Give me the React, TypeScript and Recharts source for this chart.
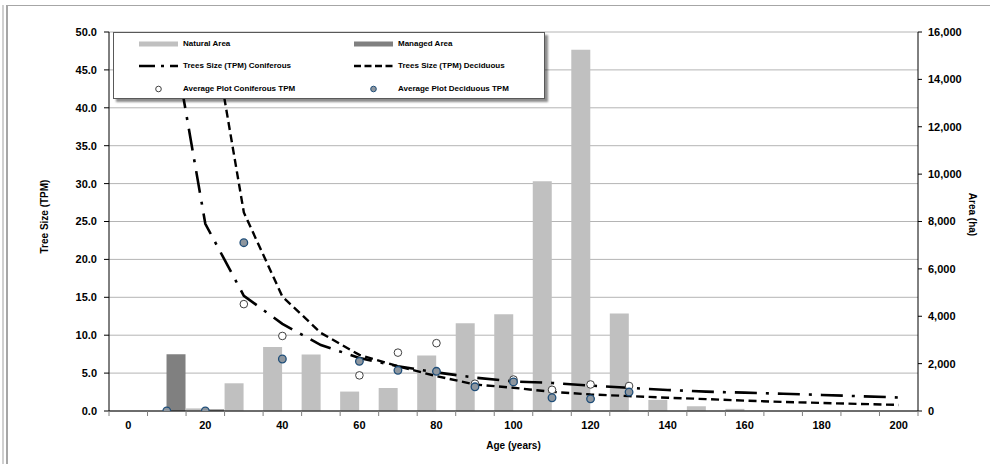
import React from 'react';
import {
  ComposedChart,
  Bar,
  Line,
  XAxis,
  YAxis,
  CartesianGrid,
  Legend,
  Label,
} from 'recharts';

const FONT = '"Liberation Sans", Arial, Helvetica, sans-serif';

// Stand age classes (years)
const ages = [0, 10, 20, 30, 40, 50, 60, 70, 80, 90, 100, 110, 120, 130, 140, 150, 160, 170, 180, 190, 200];

// Area by age class (ha) – right axis
const naturalArea = [0, 0, 110, 1170, 2700, 2380, 820, 970, 2340, 3700, 4080, 9700, 15250, 4120, 470, 200, 90, 0, 0, 0, 0];
const managedArea = [0, 2400, 70, 0, 0, 0, 0, 0, 0, 0, 0, 0, 0, 0, 0, 0, 0, 0, 0, 0, 0];

// Tree size curves (TPM) – left axis
const coniferousTrend = [null, 54, 24.7, 15.2, 11.5, 8.7, 7.0, 5.9, 5.1, 4.4, 3.9, 3.7, 3.35, 3.05, 2.78, 2.55, 2.42, 2.27, 2.12, 1.95, 1.78];
const deciduousTrend = [null, null, 56, 26.2, 15.1, 10.3, 7.4, 5.9, 4.6, 3.5, 3.06, 2.53, 2.18, 1.97, 1.75, 1.57, 1.37, 1.2, 1.06, 0.93, 0.8];

// Plot averages (TPM) – left axis
const coniferousPlots = [null, null, null, 14.1, 9.9, null, 4.7, 7.7, 8.95, 3.6, 4.15, 2.8, 3.5, 3.3, null, null, null, null, null, null, null];
const deciduousPlots = [null, 0, 0, 22.2, 6.86, null, 6.55, 5.37, 5.24, 3.19, 3.84, 1.75, 1.6, 2.5, null, null, null, null, null, null, null];

// Axis ticks
const tpmTicks = [0, 5, 10, 15, 20, 25, 30, 35, 40, 45, 50];
const areaTicks = [0, 2000, 4000, 6000, 8000, 10000, 12000, 14000, 16000];

// Series names
const seriesNames = [
  'Natural Area',
  'Managed Area',
  'Trees Size (TPM) Coniferous',
  'Trees Size (TPM) Deciduous',
  'Average Plot Coniferous TPM',
  'Average Plot Deciduous TPM',
];

const COLORS = {
  natural: '#c0c0c0',
  managed: '#808080',
  line: '#000000',
  conFill: '#ffffff',
  conStroke: '#404040',
  decFill: '#8e969e',
  decStroke: '#1f4e79',
  grid: '#b4b4b4',
};

const DASH_DOT = '22 9 3 9';
const DASHED = '8 4.5';

const data = ages.map((age, i) => ({
  age,
  natural: naturalArea[i],
  managed: managedArea[i],
  conTrend: coniferousTrend[i],
  decTrend: deciduousTrend[i],
  conPlot: coniferousPlots[i],
  decPlot: deciduousPlots[i],
}));

const tickText = { fontSize: 11, fontWeight: 700, fill: '#000', fontFamily: FONT };

// Category axis tick: marks sit on the class boundaries, labels every 20 years
const AgeTick = (props: any) => {
  const { x, y, payload } = props;
  const half = typeof payload.offset === 'number' && payload.offset > 0 ? payload.offset : 809 / ages.length / 2;
  const age = payload.value;
  const isLast = age === ages[ages.length - 1];
  return (
    <g>
      <line x1={x - half} x2={x - half} y1={y} y2={y + 5} stroke="#7f7f7f" strokeWidth={1} />
      {isLast && <line x1={x + half} x2={x + half} y1={y} y2={y + 5} stroke="#7f7f7f" strokeWidth={1} />}
      {age % 20 === 0 && (
        <text x={x} y={y + 18} textAnchor="middle" {...tickText}>
          {age}
        </text>
      )}
    </g>
  );
};

const Swatch = ({ kind }: { kind: number }) => {
  if (kind === 0 || kind === 1) {
    return (
      <svg width={39} height={10}>
        <rect x={0} y={2.5} width={39} height={5} fill={kind === 0 ? COLORS.natural : COLORS.managed} />
      </svg>
    );
  }
  if (kind === 2 || kind === 3) {
    return (
      <svg width={39} height={10}>
        <line
          x1={0}
          x2={39}
          y1={5}
          y2={5}
          stroke={COLORS.line}
          strokeWidth={2.5}
          strokeDasharray={kind === 2 ? '16 6 3 6' : '7 3.5'}
        />
      </svg>
    );
  }
  return (
    <svg width={39} height={10}>
      <circle
        cx={19.5}
        cy={5}
        r={2.8}
        fill={kind === 4 ? COLORS.conFill : COLORS.decFill}
        stroke={kind === 4 ? COLORS.conStroke : COLORS.decStroke}
        strokeWidth={1}
      />
    </svg>
  );
};

const LegendBox = () => (
  <div
    style={{
      position: 'relative',
      width: 432,
      height: 67,
      boxSizing: 'border-box',
      background: '#fff',
      border: '1px solid #595959',
      boxShadow: '3px 3px 2px rgba(0,0,0,0.45)',
      fontFamily: FONT,
      fontWeight: 700,
      fontSize: 8,
      color: '#000',
    }}
  >
    {seriesNames.map((name, i) => {
      const col = i % 2;
      const row = Math.floor(i / 2);
      const top = 11 + row * 22.3;
      return (
        <React.Fragment key={name}>
          <div style={{ position: 'absolute', left: 25 + col * 215, top: top - 5, width: 39, height: 10, lineHeight: 0 }}>
            <Swatch kind={i} />
          </div>
          <div style={{ position: 'absolute', left: 69 + col * 215, top: top - 6, height: 12, lineHeight: '12px', whiteSpace: 'nowrap' }}>
            {name}
          </div>
        </React.Fragment>
      );
    })}
  </div>
);

const titleStyle = { fontSize: 10, fontWeight: 700, fill: '#000', fontFamily: FONT };

export default function App() {
  return (
    <div style={{ position: 'absolute', left: 0, top: 0, width: 990, height: 464, background: '#fff', overflow: 'hidden' }}>
      {/* chart frame edges */}
      <div style={{ position: 'absolute', left: 2, top: 5, width: 2, height: 459, background: '#d0d0d0' }} />
      <div style={{ position: 'absolute', left: 5.5, top: 5, width: 2, height: 459, background: '#a6a6a6' }} />
      <div style={{ position: 'absolute', left: 6, top: 4.5, width: 984, height: 1.5, background: '#a6a6a6' }} />
      <div style={{ position: 'absolute', left: 0, top: 0 }}>
        <ComposedChart
          width={990}
          height={464}
          data={data}
          margin={{ top: 32, right: 12, bottom: 23, left: 49 }}
          barCategoryGap={0}
          barGap={0}
          style={{ fontFamily: FONT }}
        >
          <CartesianGrid yAxisId="left" vertical={false} stroke={COLORS.grid} strokeWidth={1} />
          <XAxis
            dataKey="age"
            type="category"
            interval={0}
            height={30}
            tickSize={0}
            tickMargin={0}
            tickLine={false}
            axisLine={{ stroke: '#000', strokeWidth: 1.2 }}
            tick={<AgeTick />}
          >
            <Label
              content={({ viewBox }: any) => (
                <text
                  x={viewBox.x + viewBox.width / 2}
                  y={viewBox.y + 38}
                  textAnchor="middle"
                  {...titleStyle}
                >
                  Age (years)
                </text>
              )}
            />
          </XAxis>
          <YAxis
            yAxisId="left"
            width={60}
            domain={[0, 50]}
            ticks={tpmTicks}
            allowDataOverflow
            interval={0}
            tickSize={5}
            tickMargin={7}
            tickFormatter={(v: number) => v.toFixed(1)}
            tick={tickText}
            axisLine={{ stroke: '#000', strokeWidth: 1 }}
            tickLine={{ stroke: '#000' }}
          >
            <Label
              content={({ viewBox }: any) => {
                const cx = viewBox.x - 5;
                const cy = viewBox.y + viewBox.height / 2 - 5;
                return (
                  <text
                    x={cx}
                    y={cy}
                    transform={`rotate(-90 ${cx} ${cy})`}
                    textAnchor="middle"
                    dominantBaseline="central"
                    {...titleStyle}
                  >
                    Tree Size (TPM)
                  </text>
                );
              }}
            />
          </YAxis>
          <YAxis
            yAxisId="right"
            orientation="right"
            width={60}
            domain={[0, 16000]}
            ticks={areaTicks}
            interval={0}
            tickSize={4}
            tickMargin={6}
            tickFormatter={(v: number) => v.toLocaleString('en-US')}
            tick={tickText}
            axisLine={{ stroke: '#000', strokeWidth: 1 }}
            tickLine={{ stroke: '#000' }}
          >
            <Label
              content={({ viewBox }: any) => {
                const cx = viewBox.x + 54;
                const cy = viewBox.y + viewBox.height / 2 - 7;
                return (
                  <text
                    x={cx}
                    y={cy}
                    transform={`rotate(90 ${cx} ${cy})`}
                    textAnchor="middle"
                    dominantBaseline="central"
                    {...titleStyle}
                  >
                    Area (ha)
                  </text>
                );
              }}
            />
          </YAxis>
          <Legend
            layout="horizontal"
            verticalAlign="middle"
            align="center"
            width={432}
            height={67}
            wrapperStyle={{ left: 113, top: 32, width: 432, height: 67 }}
            content={() => <LegendBox />}
          />
          <Bar yAxisId="right" dataKey="natural" name={seriesNames[0]} fill={COLORS.natural} isAnimationActive={false} />
          <Bar yAxisId="right" dataKey="managed" name={seriesNames[1]} fill={COLORS.managed} isAnimationActive={false} />
          <Line
            yAxisId="left"
            type="linear"
            dataKey="conTrend"
            name={seriesNames[2]}
            stroke={COLORS.line}
            strokeWidth={2.6}
            strokeDasharray={DASH_DOT}
            dot={false}
            activeDot={false}
            isAnimationActive={false}
          />
          <Line
            yAxisId="left"
            type="linear"
            dataKey="decTrend"
            name={seriesNames[3]}
            stroke={COLORS.line}
            strokeWidth={2.4}
            strokeDasharray={DASHED}
            dot={false}
            activeDot={false}
            isAnimationActive={false}
          />
          <Line
            yAxisId="left"
            dataKey="conPlot"
            name={seriesNames[4]}
            stroke="none"
            dot={{ r: 3.8, fill: COLORS.conFill, stroke: COLORS.conStroke, strokeWidth: 1 }}
            activeDot={false}
            isAnimationActive={false}
          />
          <Line
            yAxisId="left"
            dataKey="decPlot"
            name={seriesNames[5]}
            stroke="none"
            dot={{ r: 3.8, fill: COLORS.decFill, stroke: COLORS.decStroke, strokeWidth: 1.3 }}
            activeDot={false}
            isAnimationActive={false}
          />
        </ComposedChart>
      </div>
    </div>
  );
}
